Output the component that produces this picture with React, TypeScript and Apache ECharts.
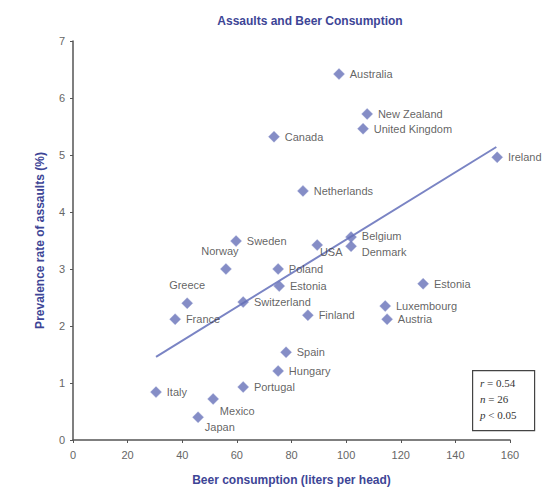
import React, { useEffect, useRef } from "react";
import * as echarts from "echarts";

const countries = [
  "Australia", "New Zealand", "United Kingdom", "Canada", "Ireland", "Netherlands",
  "Sweden", "Belgium", "USA", "Denmark", "Norway", "Poland", "Estonia", "Greece",
  "Switzerland", "France", "Finland", "Estonia", "Luxembourg", "Austria", "Spain",
  "Hungary", "Portugal", "Italy", "Mexico", "Japan",
];
const beer = [
  97.4, 107.7, 106.2, 73.6, 155.3, 84.2,
  59.7, 101.8, 89.4, 101.8, 56.0, 75.1, 75.5, 41.8,
  62.3, 37.4, 86.0, 128.2, 114.3, 115.0, 78.0,
  75.1, 62.3, 30.4, 51.3, 45.8,
];
const assaults = [
  6.42, 5.72, 5.46, 5.32, 4.96, 4.37,
  3.49, 3.56, 3.42, 3.40, 3.0, 3.0, 2.70, 2.40,
  2.42, 2.12, 2.19, 2.74, 2.35, 2.12, 1.54,
  1.21, 0.93, 0.84, 0.72, 0.40,
];
const trendX = [30.4, 155];
const trendY = [1.46, 5.14];
const xTicks = [0, 20, 40, 60, 80, 100, 120, 140, 160];
const yTicks = [0, 1, 2, 3, 4, 5, 6, 7];
const statsSymbols = ["r", "n", "p"];
const statsRest = [" = 0.54", " = 26", " < 0.05"];

// label placement per point index (style, not data)
const labelPlacement: Record<number, { position: any; offset?: number[] }> = {
  10: { position: "top", offset: [-6, -2] }, // Norway
  13: { position: "top", offset: [0, -2] }, // Greece
  24: { position: "right", offset: [-4, 12] }, // Mexico
  25: { position: "right", offset: [-4, 10] }, // Japan
  8: { position: "right", offset: [-8, 7] }, // USA
  9: { position: "right", offset: [0, 6] }, // Denmark
  7: { position: "right", offset: [0, -1] }, // Belgium
};

export default function App() {
  const ref = useRef<HTMLDivElement>(null);
  useEffect(() => {
    if (!ref.current) return;
    const chart = echarts.init(ref.current, undefined, { renderer: "svg" });
    const blue = "#3d4596";
    const font = "Liberation Sans, Arial, sans-serif";
    const points = countries.map((c, i) => {
      const lp = labelPlacement[i];
      return {
        name: c,
        value: [beer[i], assaults[i]],
        label: {
          show: true,
          formatter: c,
          position: lp ? lp.position : "right",
          offset: lp && lp.offset ? lp.offset : [0, 0],
          distance: 5,
          color: "#3a3a3a",
          fontSize: 11,
          fontFamily: font,
        },
      };
    });
    chart.setOption({
      animation: false,
      title: {
        text: "Assaults and Beer Consumption",
        left: 305,
        textAlign: "center",
        top: 10,
        textStyle: { color: blue, fontSize: 12, fontWeight: "bold", fontFamily: font },
      },
      grid: { left: 73, right: 37, top: 41, bottom: 52, containLabel: false },
      xAxis: {
        type: "value",
        min: xTicks[0],
        max: xTicks[xTicks.length - 1],
        interval: 20,
        name: "Beer consumption (liters per head)",
        nameLocation: "middle",
        nameGap: 34,
        nameTextStyle: { color: blue, fontSize: 12, fontWeight: "bold", fontFamily: font },
        axisLine: { onZero: false, lineStyle: { color: "#555", width: 1.5 } },
        axisTick: { show: true, length: 3, lineStyle: { color: "#555" } },
        axisLabel: { color: "#666", fontSize: 11, margin: 9, fontFamily: font },
        splitLine: { show: false },
      },
      yAxis: {
        type: "value",
        min: yTicks[0],
        max: yTicks[yTicks.length - 1],
        interval: 1,
        name: "Prevalence rate of assaults (%)",
        nameLocation: "middle",
        nameRotate: 90,
        nameGap: 27,
        nameTextStyle: { color: blue, fontSize: 12, fontWeight: "bold", fontFamily: font },
        axisLine: { show: true, onZero: false, lineStyle: { color: "#555", width: 1.5 } },
        axisTick: { show: true, length: 3, lineStyle: { color: "#555" } },
        axisLabel: { color: "#666", fontSize: 11, margin: 8, fontFamily: font },
        splitLine: { show: false },
      },
      series: [
        {
          type: "line",
          data: trendX.map((x, i) => [x, trendY[i]]),
          symbol: "none",
          lineStyle: { color: "#7a84c4", width: 2 },
          silent: true,
          z: 1,
        },
        {
          type: "scatter",
          symbol: "diamond",
          symbolSize: 11,
          itemStyle: { color: "#6670b8", borderColor: "#8a93cc", borderWidth: 0.5 },
          data: points,
          z: 2,
        },
      ],
      graphic: [
        {
          type: "rect",
          left: 472,
          top: 370,
          shape: { width: 62, height: 60 },
          style: { fill: "#fff", stroke: "#444", lineWidth: 1.2 },
        },
        ...statsSymbols.map((s, i) => ({
          type: "text",
          left: 480,
          top: 377 + i * 16,
          style: {
            text: "{i|" + s + "}{n|" + statsRest[i] + "}",
            rich: {
              i: { fontStyle: "italic", fontSize: 11, fontFamily: "'Liberation Serif', serif", fill: "#333", color: "#333" },
              n: { fontSize: 11, fontFamily: "'Liberation Serif', serif", fill: "#333", color: "#333" },
            },
            fill: "#333",
          },
        })),
      ],
    });
    return () => chart.dispose();
  }, []);
  return <div ref={ref} style={{ width: 547, height: 492, position: "absolute", left: 0, top: 0 }} />;
}
